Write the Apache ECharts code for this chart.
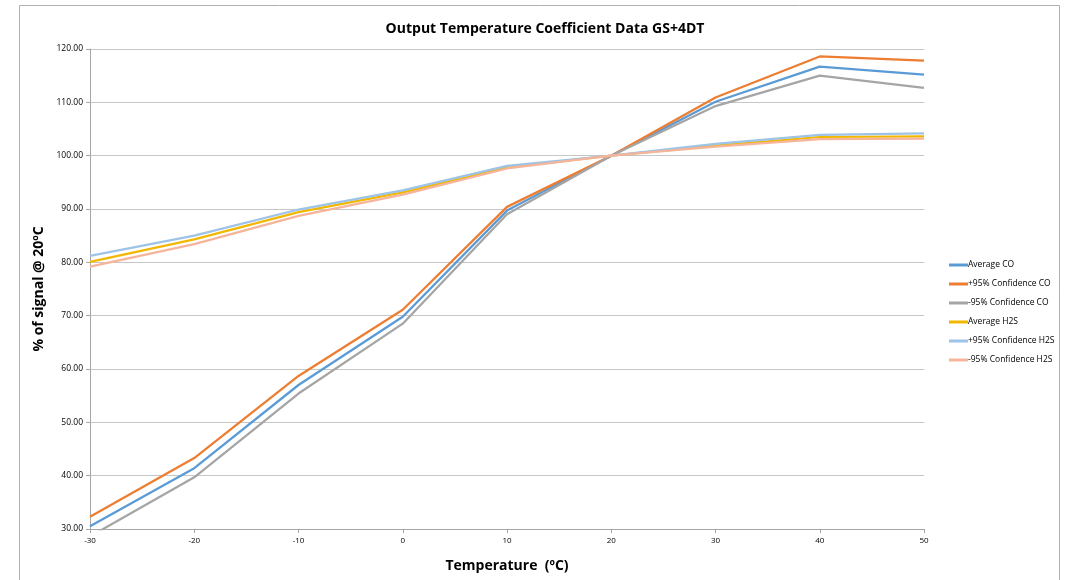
<!DOCTYPE html>
<html>
<head>
<meta charset="utf-8">
<script src="https://cdn.jsdelivr.net/npm/echarts@6/dist/echarts.min.js"></script>
<style>html,body{margin:0;padding:0;background:#fff}#c{width:1066px;height:580px}</style>
</head>
<body>
<div id="c"></div>
<script>
const temps = [-30, -20, -10, 0, 10, 20, 30, 40, 50];
const avgCO   = [30.5, 41.4, 57.0, 69.8, 89.7, 100, 110.1, 116.7, 115.2];
const plusCO  = [32.3, 43.3, 58.7, 71.1, 90.4, 100, 110.9, 118.6, 117.8];
const minusCO = [28.6, 39.7, 55.4, 68.5, 89.0, 100, 109.3, 115.0, 112.7];
const avgH2S  = [80.1, 84.3, 89.4, 93.1, 97.8, 100, 101.9, 103.5, 103.6];
const plusH2S = [81.2, 85.0, 89.9, 93.5, 98.1, 100, 102.2, 103.9, 104.2];
const minusH2S= [79.2, 83.4, 88.7, 92.7, 97.6, 100, 101.7, 103.1, 103.2];
const seriesNames = ['Average CO', '+95% Confidence CO', '-95% Confidence CO', 'Average H2S', '+95% Confidence H2S', '-95% Confidence H2S'];
const seriesData = [avgCO, plusCO, minusCO, avgH2S, plusH2S, minusH2S];
const colors = ['#5B9BD5', '#ED7D31', '#A5A5A5', '#F2B800', '#9DC3E6', '#F6B49A'];
const font = 'Open Sans, Noto Sans, sans-serif';

const chart = echarts.init(document.getElementById('c'), null, {renderer: 'canvas'});
chart.setOption({
  animation: false,
  color: colors,
  title: {
    text: 'Output Temperature Coefficient Data GS+4DT',
    left: 540, top: 17, textAlign: 'center',
    textStyle: {fontFamily: font, fontSize: 14, fontWeight: 'bold', color: '#000'}
  },
  graphic: [{
    type: 'rect', shape: {x: 19.5, y: 5.5, width: 1040, height: 600},
    style: {fill: 'none', stroke: '#b0b0b0', lineWidth: 1}, z: -1
  }],
  legend: {
    orient: 'vertical', left: 944, top: 254, itemGap: 7,
    itemWidth: 19, itemHeight: 3, icon: 'rect',
    textStyle: {fontFamily: font, fontSize: 8.5, color: '#000', padding: [0, 0, 0, -5], height: 12, lineHeight: 12},
    data: seriesNames
  },
  grid: {left: 90, right: 142, top: 49, bottom: 51, containLabel: false},
  xAxis: {
    type: 'value', min: -30, max: 50, interval: 10,
    name: 'Temperature  (ºC)', nameLocation: 'middle', nameGap: 30,
    nameTextStyle: {fontFamily: font, fontSize: 14, fontWeight: 'bold', color: '#000'},
    axisLine: {show: true, onZero: false, lineStyle: {color: '#a6a6a6', width: 1}},
    axisTick: {show: true, length: 4, lineStyle: {color: '#a6a6a6'}},
    axisLabel: {fontFamily: font, fontSize: 8, color: '#000', margin: 8},
    splitLine: {show: false}
  },
  yAxis: {
    type: 'value', min: 30, max: 120, interval: 10,
    name: '% of signal @ 20ºC', nameLocation: 'middle', nameGap: 44, nameRotate: 90,
    nameTextStyle: {fontFamily: font, fontSize: 14, fontWeight: 'bold', color: '#000'},
    axisLine: {show: true, onZero: false, lineStyle: {color: '#a6a6a6', width: 1}},
    axisTick: {show: true, length: 4, lineStyle: {color: '#a6a6a6'}},
    axisLabel: {fontFamily: font, fontSize: 8.5, color: '#000', margin: 7, formatter: v => v.toFixed(2)},
    splitLine: {show: true, lineStyle: {color: '#c6c6c6', width: 1.2}}
  },
  series: seriesNames.map((n, i) => ({
    name: n, type: 'line', showSymbol: false, symbol: 'none',
    data: temps.map((t, j) => [t, seriesData[i][j]]),
    lineStyle: {width: 2.25, color: colors[i]},
    itemStyle: {color: colors[i]},
    clip: true
  }))
});
</script>
</body>
</html>
